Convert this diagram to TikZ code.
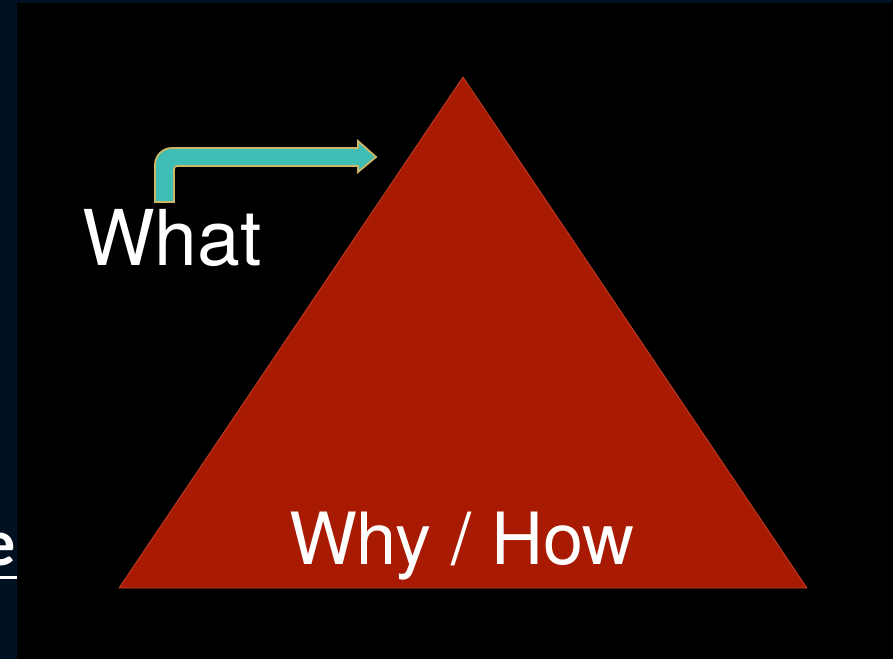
\documentclass[tikz,border=0pt]{standalone}
\usepackage{fontspec}
\setmainfont{TeX Gyre Heros}
\newfontfamily\calib{Carlito}
\definecolor{navy}{RGB}{1,16,32}
\definecolor{tri}{RGB}{168,26,2}
\definecolor{triedge}{RGB}{196,62,40}
\definecolor{teal}{RGB}{62,190,180}
\definecolor{tan}{RGB}{204,182,104}
\tikzset{
  label text/.style={text=white, inner sep=0pt, outer sep=0pt},
}
\begin{document}
\begin{tikzpicture}[x=1pt,y=-1pt]
  \useasboundingbox (0,0) rectangle (893,659);
  % navy page
  \fill[navy] (0,0) rectangle (893,659);
  % cropped letter at left edge
  \node[label text, anchor=base east, font=\calib\bfseries\fontsize{66}{66}\selectfont] (e) at (15.8,565) {e};
  \fill[white] (-20,575.5) rectangle (17,579);
  % black stage
  \fill[black] (17,3) rectangle (893,659);
  % triangle
  \coordinate (apex) at (463,77);
  \coordinate (bl) at (119,588);
  \coordinate (br) at (807,588);
  \fill[tri, draw=triedge, line width=0.8pt, line join=round] (apex) -- (br) -- (bl) -- cycle;
  % arrow
  \fill[teal, draw=tan, line width=1.8pt, line join=miter]
    (155,202) -- (155,165) .. controls (155,155.6) and (162.6,148) .. (172,148)
    -- (358,148) -- (358,141) -- (376,157) -- (358,172) -- (358,166)
    -- (177,166) .. controls (175.3,166) and (174,167.3) .. (174,169)
    -- (174,202) -- cycle;
  % texts
  \node[label text, anchor=base west, font=\fontsize{77}{77}\selectfont] (what) at (82,265) {What};
  \node[label text, anchor=base west, font=\fontsize{72}{72}\selectfont] (whyhow) at (289,564) {Why / How};
\end{tikzpicture}
\end{document}
